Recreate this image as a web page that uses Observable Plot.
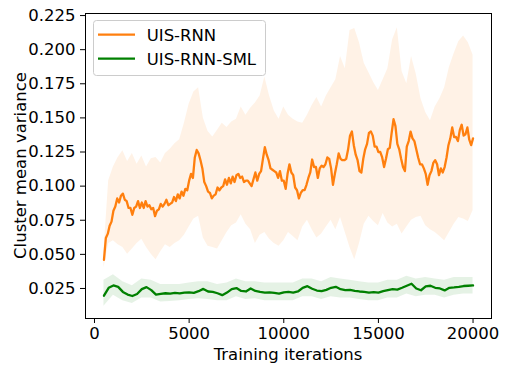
<!DOCTYPE html>
<html><head><meta charset="utf-8">
<script src="https://cdn.jsdelivr.net/npm/d3@7"></script>
<script src="https://cdn.jsdelivr.net/npm/@observablehq/plot@0.6"></script>
<style>
body{margin:0;background:#fff}
#chart{position:relative;width:507px;height:372px}
</style>
</head><body><div id="chart"></div>
<script>
const seriesNames = ["UIS-RNN", "UIS-RNN-SML"];
const seriesColors = ["#ff7f0e", "#008000"];
const xLabel = "Training iterations";
const yLabel = "Cluster mean variance";
const xTicks = [0, 5000, 10000, 15000, 20000];
const yTicks = [0.025, 0.05, 0.075, 0.1, 0.125, 0.15, 0.175, 0.2, 0.225];

// UIS-RNN mean, sampled every 100 iterations from 500
const rnnStart = 500, rnnStep = 100;
const rnnMean = [
  .046,.062,.065,.071,.074,.082,.085,.091,.088,.093,
  .0945,.090,.089,.084,.084,.079,.084,.085,.089,.084,
  .088,.084,.089,.085,.086,.083,.084,.078,.082,.083,
  .087,.085,.087,.090,.086,.087,.088,.092,.089,.094,
  .091,.096,.093,.098,.097,.104,.109,.106,.121,.1265,
  .124,.119,.113,.103,.100,.096,.095,.091,.093,.094,
  .099,.097,.099,.100,.105,.101,.106,.102,.107,.103,
  .108,.109,.106,.107,.103,.104,.104,.102,.100,.105,
  .110,.104,.109,.111,.120,.1285,.123,.119,.113,.112,
  .111,.110,.106,.111,.104,.104,.098,.109,.116,.110,
  .108,.099,.097,.091,.095,.097,.097,.101,.106,.110,
  .1195,.114,.114,.106,.113,.115,.114,.116,.121,.120,
  .113,.101,.109,.116,.124,.120,.119,.119,.120,.127,
  .137,.140,.130,.123,.119,.111,.110,.120,.127,.131,
  .139,.140,.137,.129,.129,.125,.125,.121,.114,.120,
  .127,.128,.139,.149,.144,.131,.127,.120,.114,.111,
  .129,.133,.140,.135,.133,.127,.121,.116,.116,.113,
  .109,.101,.108,.111,.117,.119,.116,.108,.113,.110,
  .114,.121,.130,.135,.143,.136,.136,.133,.141,.145,
  .137,.138,.143,.134,.130,.135
];

// UIS-RNN spread band and UIS-RNN-SML mean, every 250 iterations from 500
const bandStart = 500, bandStep = 250;
const rnnUpper = [
  .052,.104,.114,.121,.126,.118,.124,.116,
  .122,.114,.120,.121,.117,.124,.127,.131,
  .134,.146,.160,.169,.172,.150,.140,.136,
  .141,.146,.143,.147,.149,.158,.152,.157,
  .161,.166,.180,.166,.155,.149,.158,.152,
  .149,.147,.146,.152,.159,.165,.158,.166,
  .172,.178,.195,.186,.214,.2155,.205,.190,
  .183,.176,.170,.178,.186,.207,.216,.184,
  .175,.195,.182,.164,.154,.148,.158,.164,
  .172,.187,.197,.206,.210,.205,.196
];
const rnnLower = [
  .040,.058,.060,.057,.055,.050,.054,.058,
  .061,.055,.050,.046,.052,.057,.055,.058,
  .060,.064,.070,.076,.078,.062,.056,.055,
  .054,.060,.066,.071,.073,.079,.072,.068,
  .058,.064,.066,.061,.058,.056,.060,.066,
  .063,.060,.070,.075,.068,.062,.065,.070,
  .075,.068,.077,.066,.055,.046,.058,.072,
  .078,.074,.071,.080,.073,.070,.072,.065,
  .070,.075,.077,.078,.071,.068,.066,.063,
  .060,.066,.072,.077,.076,.074,.082
];
const smlMean = [
  .0197,.0255,.0272,.0262,.0225,.0205,.0195,.0210,
  .0245,.0260,.0238,.0205,.0210,.0215,.0212,.0218,
  .0214,.0220,.0222,.0218,.0230,.0247,.0228,.0225,
  .0215,.0201,.0220,.0245,.0253,.0232,.0228,.0250,
  .0232,.0225,.0220,.0222,.0218,.0212,.0222,.0225,
  .0220,.0228,.0255,.0267,.0248,.0235,.0230,.0240,
  .0255,.0262,.0245,.0238,.0240,.0232,.0228,.0225,
  .0220,.0224,.0220,.0230,.0238,.0245,.0242,.0255,
  .0270,.0285,.0250,.0237,.0265,.0270,.0255,.0250,
  .0236,.0255,.0258,.0262,.0268,.0270,.0272
];

// UIS-RNN-SML spread band, every 500 iterations from 500
const smlBandStart = 500, smlBandStep = 500;
const smlUpper = [
  .031,.035,.030,.027,.032,.031,.028,.028,.028,.029,
  .030,.030,.028,.029,.032,.030,.030,.029,.029,.029,
  .029,.032,.032,.030,.033,.032,.031,.030,.029,.029,
  .031,.031,.034,.032,.033,.032,.031,.033,.033,.033
];
const smlLower = [
  .012,.020,.016,.014,.018,.018,.015,.0155,.016,.017,
  .0175,.017,.016,.016,.019,.017,.0175,.016,.016,.016,
  .016,.019,.019,.017,.019,.018,.018,.017,.016,.016,
  .018,.018,.021,.019,.020,.020,.018,.020,.021,.021
];

const rnnLine = rnnMean.map((v, i) => ({x: rnnStart + i * rnnStep, y: v}));
const rnnBand = rnnUpper.map((v, i) => ({x: bandStart + i * bandStep, y1: rnnLower[i], y2: v}));
const smlLine = smlMean.map((v, i) => ({x: bandStart + i * bandStep, y: v}));
const smlBand = smlUpper.map((v, i) => ({x: smlBandStart + i * smlBandStep, y1: smlLower[i], y2: v}));

const font = "DejaVu Sans";
const fs = 16.5;

const plot = Plot.plot({
  width: 507,
  height: 372,
  marginLeft: 85,
  marginRight: 16,
  marginTop: 13,
  marginBottom: 54,
  style: {fontFamily: font, fontSize: fs + "px", background: "#fff", color: "#000"},
  x: {domain: [-475, 20975]},
  y: {domain: [0.003, 0.2265]},
  marks: [
    Plot.areaY(rnnBand, {x: "x", y1: "y1", y2: "y2", fill: seriesColors[0], fillOpacity: 0.1}),
    Plot.areaY(smlBand, {x: "x", y1: "y1", y2: "y2", fill: seriesColors[1], fillOpacity: 0.1}),
    Plot.line(rnnLine, {x: "x", y: "y", stroke: seriesColors[0], strokeWidth: 2.3}),
    Plot.line(smlLine, {x: "x", y: "y", stroke: seriesColors[1], strokeWidth: 2.3}),
    Plot.frame({stroke: "#000", strokeWidth: 1}),
    Plot.axisX(xTicks, {tickSize: 5, tickPadding: 4, tickFormat: d => String(d), label: null, fontSize: fs}),
    Plot.axisY(yTicks, {tickSize: 5, tickPadding: 5, tickFormat: d3.format(".3f"), label: null, fontSize: fs})
  ]
});

document.getElementById("chart").appendChild(plot);

const svg = d3.select(plot);
svg.append("text")
  .attr("x", 288).attr("y", 360)
  .attr("text-anchor", "middle")
  .attr("font-family", font).attr("font-size", fs).attr("fill", "#000")
  .text(xLabel);
svg.append("text")
  .attr("transform", "translate(26,165.5) rotate(-90)")
  .attr("text-anchor", "middle")
  .attr("font-family", font).attr("font-size", fs).attr("fill", "#000")
  .text(yLabel);

const lg = svg.append("g");
lg.append("rect")
  .attr("x", 93.5).attr("y", 20.5).attr("width", 172).attr("height", 55).attr("rx", 3)
  .attr("fill", "#fff").attr("fill-opacity", 0.8).attr("stroke", "#ccc");
seriesNames.forEach((name, i) => {
  const yy = 34.7 + i * 24;
  lg.append("line").attr("x1", 98).attr("x2", 135).attr("y1", yy).attr("y2", yy)
    .attr("stroke", seriesColors[i]).attr("stroke-width", 2.3);
  lg.append("text").attr("x", 146.7).attr("y", yy + 6)
    .attr("text-anchor", "start")
    .attr("font-family", font).attr("font-size", fs).attr("fill", "#000")
    .text(name);
});
</script>
</body></html>
